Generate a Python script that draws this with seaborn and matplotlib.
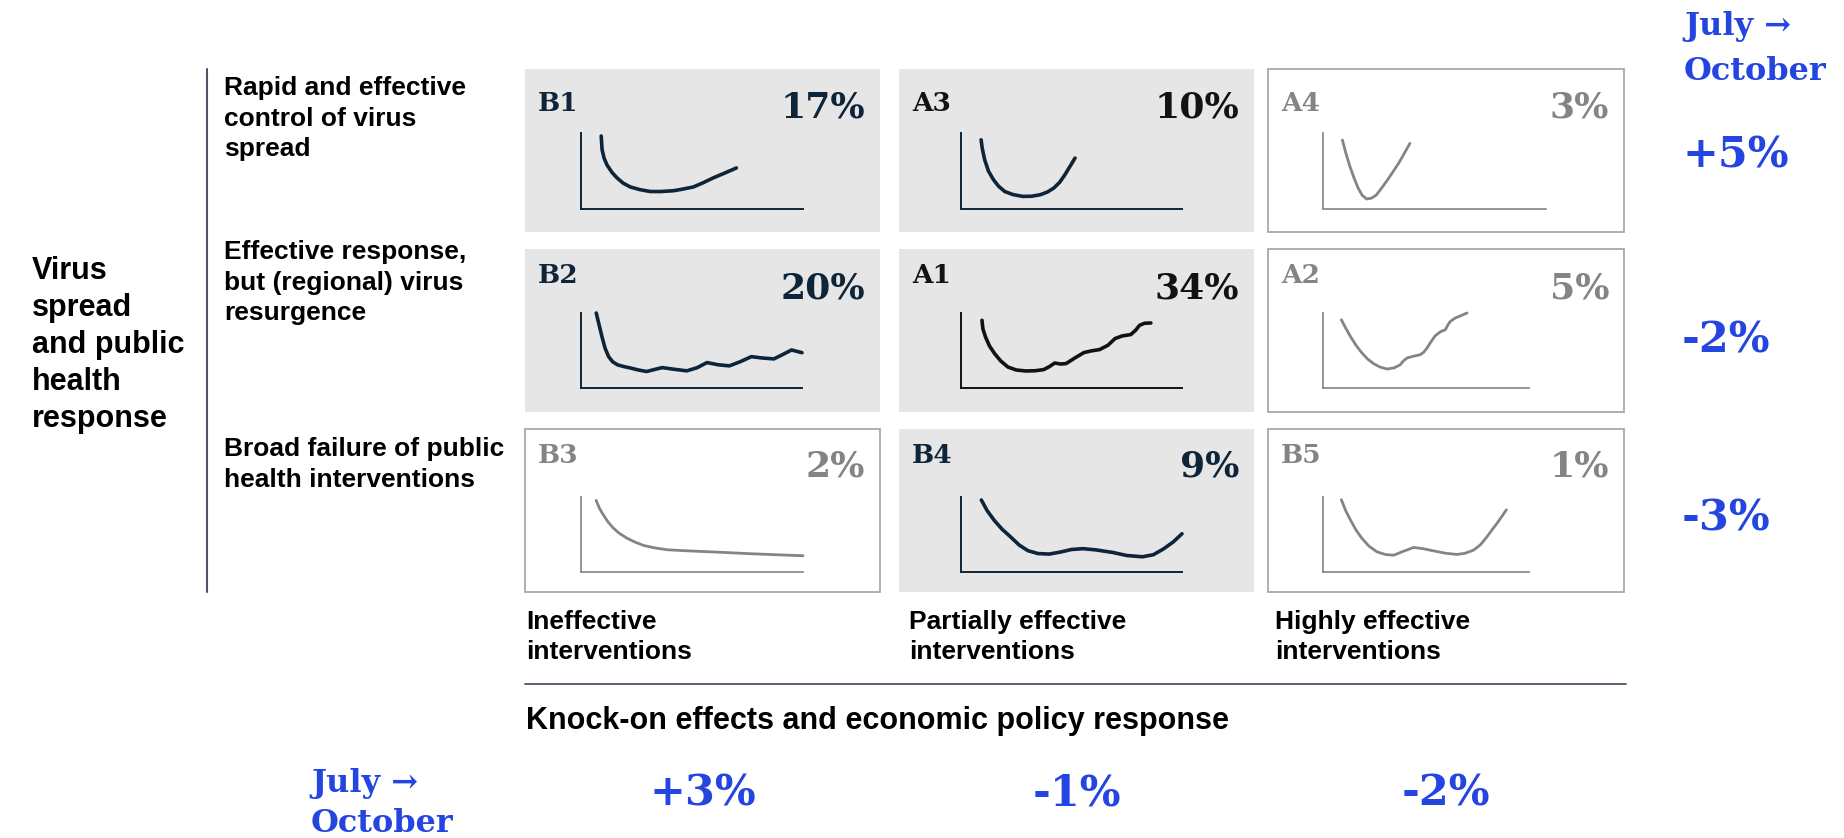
import matplotlib
matplotlib.use("Agg")
import matplotlib.pyplot as plt
from matplotlib.patches import Rectangle
import seaborn as sns

sns.set_theme(style="white")
plt.rcParams["font.family"] = ["Liberation Sans", "DejaVu Sans"]

# ---------------------------------------------------------------- data
row_titles = [
    ["Rapid and effective", "control of virus", "spread"],
    ["Effective response,", "but (regional) virus", "resurgence"],
    ["Broad failure of public", "health interventions"],
]
col_titles = [
    ["Ineffective", "interventions"],
    ["Partially effective", "interventions"],
    ["Highly effective", "interventions"],
]
side_title = ["Virus", "spread", "and public", "health", "response"]
bottom_title = "Knock-on effects and economic policy response"
change_label = ["July \u2192", "October"]

cell_codes = [["B1", "A3", "A4"],
              ["B2", "A1", "A2"],
              ["B3", "B4", "B5"]]
cell_probs = [[17, 10, 3],
              [20, 34, 5],
              [2, 9, 1]]
cell_shaded = [[True, True, False],
               [True, True, False],
               [False, True, False]]
row_change = [5, -2, -3]
col_change = [3, -1, -2]

# recovery paths sketched in each scenario (x: time, y: activity, 0-100)
b1_x = [9.1, 9.3, 9.5, 10.4, 11.7, 14.0, 16.2, 19.0, 22.2, 26.5, 31.2, 36.0,
        41.6, 45.5, 50.6, 55.0, 59.6, 64.5, 70.0]
b1_y = [96, 87, 78, 67, 58, 48, 41, 34, 29, 25.5, 23, 23,
        24, 26, 29, 34.5, 41, 47, 54]
a3_x = [9.1, 9.6, 10.7, 12.4, 14.7, 17.0, 19.8, 23.5, 27.9, 32.0, 35.9, 39.2,
        42.0, 44.6, 47.0, 49.3, 51.6]
a3_y = [91, 80, 65, 50, 38.5, 30, 23, 19, 16.6, 16.8, 18.8, 22.5,
        27.6, 35, 45, 56, 67]
a4_x = [8.7, 10.3, 12.1, 13.9, 15.8, 17.6, 19.6, 21.7, 23.9, 26.4, 28.9, 31.4,
        33.9, 36.4, 39.0]
a4_y = [90.8, 73, 55.7, 41, 27.2, 18, 13.2, 14.2, 18.4, 28, 38.2, 49,
        60.1, 73, 86.4]
b2_x = [6.9, 8.2, 9.5, 10.9, 12.5, 14.3, 16.6, 19.5, 22.6, 26.0, 29.7, 33.0,
        36.8, 42.0, 47.9, 52.5, 57.0, 62.0, 67.1, 72.0, 77.1, 82.0, 87.3, 91.5,
        95.3, 100.0]
b2_y = [100, 84, 68.3, 53, 41.8, 35, 30.8, 28.5, 26.5, 24, 22, 24.5,
        27.2, 25, 22.9, 27, 33.9, 31, 29.5, 35, 41.8, 40, 38.8, 45,
        50.7, 47.1]
a1_x = [9.5, 9.9, 11.1, 12.9, 15.2, 18.0, 21.2, 25.0, 29.3, 33.5, 37.4, 40.0,
        42.4, 45.0, 47.5, 51.5, 55.6, 59.0, 62.7, 66.5, 69.7, 73.0, 76.8, 79.0,
        80.8, 83.0, 85.9]
a1_y = [90.3, 79, 68, 56, 45.9, 36, 28, 24, 22.7, 23, 24.5, 28.5,
        33.3, 32, 32.5, 40, 47.2, 49.5, 51.2, 57, 65.9, 69.5, 71.2, 77,
        83.6, 86.3, 86.7]
a2_x = [8.9, 11.0, 13.3, 16.0, 18.9, 21.7, 24.6, 27.8, 31.1, 34.5, 37.5, 39.0,
        40.8, 44.0, 47.2, 49.0, 50.5, 52.5, 54.5, 57.0, 59.4, 60.6, 61.8, 64.2,
        67.0, 69.9]
a2_y = [91, 80, 68.8, 57, 46.7, 38.5, 32.4, 27.8, 25.3, 26.8, 31, 36,
        40, 42.5, 44.4, 48, 53.3, 62, 69.7, 75, 77.7, 84, 88.8, 93.3,
        96.5, 100]
b3_x = [6.8, 8.3, 10.0, 12.1, 14.5, 17.3, 20.6, 24.2, 28.1, 33.0, 38.6, 46.0,
        53.6, 65.0, 76.1, 88.0, 100.0]
b3_y = [95.5, 85, 76.4, 67, 58.7, 51.5, 45.3, 40, 35.5, 32.3, 29.7, 28.5,
        27.5, 26, 24.4, 23, 21.7]
b4_x = [9.2, 11.8, 15.0, 18.6, 22.6, 26.3, 30.3, 34.8, 39.9, 44.8, 50.0, 55.2,
        61.0, 68.6, 75.0, 82.1, 87.0, 91.6, 96.0, 100.0]
b4_y = [96, 82, 69, 57, 46.4, 36, 28.4, 24.6, 23.9, 26.5, 30, 31.1,
        29.5, 26.1, 22, 20.3, 23, 30.7, 40, 51]
b5_x = [8.9, 11.0, 13.3, 16.0, 18.9, 22.3, 26.2, 30.3, 34.3, 36.3, 38.3, 41.0,
        44.0, 48.7, 53.7, 59.5, 65.0, 69.0, 73.1, 76.5, 79.6, 82.0, 84.5, 86.8,
        89.0]
b5_y = [96.4, 82, 69.5, 56, 44.9, 34.5, 26.9, 23.3, 22.4, 24.5, 26.9, 29.6,
        32.8, 31, 28.2, 25, 23.4, 25, 29.2, 36.5, 47, 56, 65, 74,
        82.9]

paths = {
    "B1": (b1_x, b1_y), "A3": (a3_x, a3_y), "A4": (a4_x, a4_y),
    "B2": (b2_x, b2_y), "A1": (a1_x, a1_y), "A2": (a2_x, a2_y),
    "B3": (b3_x, b3_y), "B4": (b4_x, b4_y), "B5": (b5_x, b5_y),
}

# ---------------------------------------------------------------- style / layout (pixels)
W, H = 1844, 838
NAVY = "#0e2438"
BLACK = "#121212"
GREY = "#848484"
BOX_GREY = "#e6e6e6"
EDGE = "#a9a9a9"
BLUE = "#2445e0"
RULE = "#4b5563"
SERIF = "DejaVu Serif"

col_left = [525, 899, 1268]
col_width = [355, 355, 356]
row_top = [69, 249, 429]
row_height = 163
code_top = [23, 15, 15]
prob_base = [49, 49, 47]
axis_dx = [56, 62, 55]
axis_len = [[222, 221, 223], [221, 221, 206], [222, 221, 206]]
axis_top = [64, 64, 68]
axis_bot = [140, 139, 143]
ink_override = {"A3": BLACK, "A1": BLACK}

fig = plt.figure(figsize=(W / 100, H / 100), dpi=100)
bg = fig.add_axes([0, 0, 1, 1])
bg.set_xlim(0, W)
bg.set_ylim(H, 0)
bg.axis("off")


def lines_at(x, baseline, lines, step, **kw):
    for i, s in enumerate(lines):
        bg.text(x, baseline + i * step, s, va="baseline", **kw)


# left structure
bg.plot([207, 207], [69, 592], color=RULE, lw=1.5)
lines_at(32, 279, side_title, 37, fontsize=22, fontweight="bold", color="black")
for r, lines in enumerate(row_titles):
    lines_at(224, [95, 259, 456][r], lines, 30.5, fontsize=19,
             fontweight="bold", color="black")

# scenario grid
for r in range(3):
    for c in range(3):
        x0, y0 = col_left[c], row_top[r]
        w = col_width[c]
        code = cell_codes[r][c]
        shaded = cell_shaded[r][c]
        if shaded:
            bg.add_patch(Rectangle((x0, y0), w, row_height, facecolor=BOX_GREY,
                                   edgecolor="none"))
            ink = ink_override.get(code, NAVY)
            curve_ink = NAVY if code != "A1" else BLACK
            lw_curve, lw_axis = 2.6, 1.4
        else:
            bg.add_patch(Rectangle((x0, y0), w, row_height, facecolor="white",
                                   edgecolor=EDGE, lw=1.3))
            ink = GREY
            curve_ink = GREY
            lw_curve, lw_axis = 2.0, 1.2

        bg.text(x0 + 13, y0 + code_top[r] + 19, code, fontsize=19,
                fontfamily=SERIF, fontweight="bold", color=ink, va="baseline")
        bg.text(x0 + w - 15, y0 + prob_base[r], f"{cell_probs[r][c]}%",
                fontsize=26, fontfamily=SERIF, fontweight="bold", color=ink,
                va="baseline", ha="right")

        ax_x0 = x0 + axis_dx[c]
        ax_x1 = ax_x0 + axis_len[r][c]
        ax_y0 = y0 + axis_top[r]
        ax_y1 = y0 + axis_bot[r]
        mini = fig.add_axes([ax_x0 / W, 1 - ax_y1 / H,
                             (ax_x1 - ax_x0) / W, (ax_y1 - ax_y0) / H])
        mini.set_facecolor("none")
        xs, ys = paths[code]
        sns.lineplot(x=xs, y=ys, ax=mini, color=curve_ink, linewidth=lw_curve,
                     estimator=None, sort=False)
        for ln in mini.lines:
            ln.set_solid_capstyle("round")
            ln.set_solid_joinstyle("round")
            ln.set_clip_on(False)
        mini.set_xlim(0, 100)
        mini.set_ylim(0, 100)
        mini.set_xticks([])
        mini.set_yticks([])
        mini.set_xlabel("")
        mini.set_ylabel("")
        for side in ("top", "right"):
            mini.spines[side].set_visible(False)
        for side in ("left", "bottom"):
            mini.spines[side].set_visible(True)
            mini.spines[side].set_color(curve_ink)
            mini.spines[side].set_linewidth(lw_axis)

# column titles and bottom axis
for c, lines in enumerate(col_titles):
    lines_at([526, 909, 1275][c], 629, lines, 30, fontsize=19,
             fontweight="bold", color="black")
bg.plot([525, 1626], [684, 684], color=RULE, lw=1.3)
bg.text(526, 729, bottom_title, fontsize=22, fontweight="bold", color="black",
        va="baseline")

# July -> October changes
lines_at(1684, 35, change_label, 45, fontsize=23, fontfamily=SERIF,
         fontweight="bold", color=BLUE)
for r, v in enumerate(row_change):
    bg.text(1682, [168, 352, 530][r], f"{v:+d}%", fontsize=31,
            fontfamily=SERIF, fontweight="bold", color=BLUE, va="baseline")

lines_at(311, 792, change_label, 40, fontsize=23, fontfamily=SERIF,
         fontweight="bold", color=BLUE)
for c, v in enumerate(col_change):
    bg.text(col_left[c] + col_width[c] / 2, 805, f"{v:+d}%", fontsize=31,
            fontfamily=SERIF, fontweight="bold", color=BLUE, va="baseline",
            ha="center")

fig.savefig("out.png", dpi=100, facecolor="white")
